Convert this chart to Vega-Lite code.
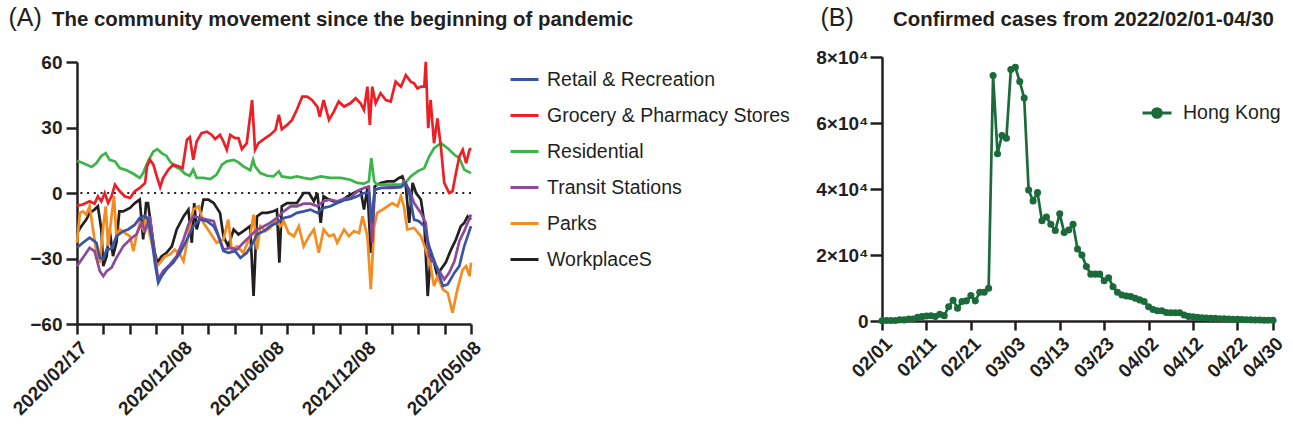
{
"$schema": "https://vega.github.io/schema/vega-lite/v6.json",
"padding": {"left": 8, "top": 5, "right": 5, "bottom": 5},
"bounds": "flush",
"spacing": 411,
"resolve": {"scale": {"color": "independent"}, "legend": {"color": "independent"}},
"config": {
 "view": {"stroke": null},
 "font": "Liberation Sans",
 "axis": {"domainColor": "#231f20", "domainWidth": 2.5, "tickColor": "#231f20", "tickWidth": 2.5, "labelFont": "Liberation Sans", "labelFontWeight": "bold", "labelFontSize": 19, "labelColor": "#231f20", "grid": false, "titleFont": "Liberation Sans", "titleFontWeight": "normal", "titleColor": "#231f20"},
 "legend": {"labelFont": "Liberation Sans", "labelFontSize": 19.5, "labelColor": "#231f20", "labelLimit": 400},
 "title": {"font": "Liberation Sans", "fontSize": 20.4, "fontWeight": "bold", "color": "#231f20", "anchor": "start", "frame": "group", "baseline": "alphabetic", "offset": 0}
},
"datasets": {
 "mob": [
{"s":"WorkplaceS","d":0,"v":-18.3},{"s":"WorkplaceS","d":9,"v":-15.2},{"s":"WorkplaceS","d":19,"v":-12.2},{"s":"WorkplaceS","d":26,"v":-9.1},{"s":"WorkplaceS","d":36,"v":-7.6},{"s":"WorkplaceS","d":43,"v":-6.1},{"s":"WorkplaceS","d":50,"v":-16.7},{"s":"WorkplaceS","d":54,"v":-33.5},{"s":"WorkplaceS","d":61,"v":-28.9},{"s":"WorkplaceS","d":67,"v":-16.7},{"s":"WorkplaceS","d":74,"v":-28.9},{"s":"WorkplaceS","d":81,"v":-22.8},{"s":"WorkplaceS","d":87,"v":-8.4},{"s":"WorkplaceS","d":95,"v":-8.4},{"s":"WorkplaceS","d":109,"v":-6.8},{"s":"WorkplaceS","d":119,"v":-4.6},{"s":"WorkplaceS","d":129,"v":-3.0},{"s":"WorkplaceS","d":136,"v":-21.3},{"s":"WorkplaceS","d":142,"v":-4.6},{"s":"WorkplaceS","d":146,"v":-4.6},{"s":"WorkplaceS","d":153,"v":-16.7},{"s":"WorkplaceS","d":160,"v":-27.4},{"s":"WorkplaceS","d":165,"v":-31.9},{"s":"WorkplaceS","d":174,"v":-28.9},{"s":"WorkplaceS","d":184,"v":-27.4},{"s":"WorkplaceS","d":195,"v":-24.4},{"s":"WorkplaceS","d":205,"v":-16.7},{"s":"WorkplaceS","d":219,"v":-10.7},{"s":"WorkplaceS","d":229,"v":-7.6},{"s":"WorkplaceS","d":236,"v":-22.8},{"s":"WorkplaceS","d":241,"v":-4.6},{"s":"WorkplaceS","d":246,"v":-16.7},{"s":"WorkplaceS","d":253,"v":-10.7},{"s":"WorkplaceS","d":260,"v":-3.0},{"s":"WorkplaceS","d":270,"v":-3.0},{"s":"WorkplaceS","d":281,"v":-4.6},{"s":"WorkplaceS","d":294,"v":-9.1},{"s":"WorkplaceS","d":301,"v":-19.8},{"s":"WorkplaceS","d":311,"v":-24.4},{"s":"WorkplaceS","d":322,"v":-16.7},{"s":"WorkplaceS","d":332,"v":-19.0},{"s":"WorkplaceS","d":342,"v":-17.5},{"s":"WorkplaceS","d":356,"v":-15.2},{"s":"WorkplaceS","d":363,"v":-47.2},{"s":"WorkplaceS","d":370,"v":-10.7},{"s":"WorkplaceS","d":380,"v":-9.1},{"s":"WorkplaceS","d":391,"v":-9.1},{"s":"WorkplaceS","d":404,"v":-8.4},{"s":"WorkplaceS","d":411,"v":-7.6},{"s":"WorkplaceS","d":416,"v":-31.9},{"s":"WorkplaceS","d":421,"v":-6.1},{"s":"WorkplaceS","d":432,"v":-4.6},{"s":"WorkplaceS","d":452,"v":-4.6},{"s":"WorkplaceS","d":466,"v":0},{"s":"WorkplaceS","d":477,"v":0},{"s":"WorkplaceS","d":487,"v":-3.8},{"s":"WorkplaceS","d":494,"v":0},{"s":"WorkplaceS","d":501,"v":-13.7},{"s":"WorkplaceS","d":507,"v":-1.5},{"s":"WorkplaceS","d":518,"v":-3.0},{"s":"WorkplaceS","d":528,"v":-3.8},{"s":"WorkplaceS","d":542,"v":-3.8},{"s":"WorkplaceS","d":556,"v":-1.5},{"s":"WorkplaceS","d":569,"v":0},{"s":"WorkplaceS","d":583,"v":1.5},{"s":"WorkplaceS","d":590,"v":-7.6},{"s":"WorkplaceS","d":597,"v":2.3},{"s":"WorkplaceS","d":604,"v":-27.4},{"s":"WorkplaceS","d":612,"v":3.0},{"s":"WorkplaceS","d":624,"v":4.6},{"s":"WorkplaceS","d":638,"v":5.3},{"s":"WorkplaceS","d":652,"v":5.3},{"s":"WorkplaceS","d":662,"v":6.9},{"s":"WorkplaceS","d":669,"v":7.6},{"s":"WorkplaceS","d":676,"v":3.0},{"s":"WorkplaceS","d":683,"v":-13.7},{"s":"WorkplaceS","d":690,"v":4.6},{"s":"WorkplaceS","d":697,"v":0},{"s":"WorkplaceS","d":707,"v":-3.0},{"s":"WorkplaceS","d":714,"v":-13.7},{"s":"WorkplaceS","d":721,"v":-47.2},{"s":"WorkplaceS","d":727,"v":-28.9},{"s":"WorkplaceS","d":734,"v":-31.9},{"s":"WorkplaceS","d":741,"v":-38.1},{"s":"WorkplaceS","d":748,"v":-35.0},{"s":"WorkplaceS","d":758,"v":-31.9},{"s":"WorkplaceS","d":769,"v":-25.9},{"s":"WorkplaceS","d":779,"v":-21.3},{"s":"WorkplaceS","d":789,"v":-15.2},{"s":"WorkplaceS","d":796,"v":-13.7},{"s":"WorkplaceS","d":803,"v":-10.7},{"s":"WorkplaceS","d":810,"v":-12.2},
{"s":"Parks","d":0,"v":-22.8},{"s":"Parks","d":6,"v":-9.1},{"s":"Parks","d":12,"v":-8.4},{"s":"Parks","d":19,"v":-9.9},{"s":"Parks","d":26,"v":-6.1},{"s":"Parks","d":33,"v":-16.7},{"s":"Parks","d":40,"v":-27.4},{"s":"Parks","d":47,"v":-31.9},{"s":"Parks","d":54,"v":-15.2},{"s":"Parks","d":59,"v":-6.1},{"s":"Parks","d":64,"v":-24.4},{"s":"Parks","d":71,"v":-10.7},{"s":"Parks","d":76,"v":-1.5},{"s":"Parks","d":81,"v":-19.8},{"s":"Parks","d":88,"v":-16.7},{"s":"Parks","d":98,"v":-18.3},{"s":"Parks","d":109,"v":-19.8},{"s":"Parks","d":116,"v":-26.6},{"s":"Parks","d":122,"v":-19.8},{"s":"Parks","d":129,"v":-13.7},{"s":"Parks","d":136,"v":-16.7},{"s":"Parks","d":143,"v":-10.7},{"s":"Parks","d":150,"v":-19.8},{"s":"Parks","d":157,"v":-25.9},{"s":"Parks","d":164,"v":-33.5},{"s":"Parks","d":171,"v":-31.9},{"s":"Parks","d":181,"v":-28.9},{"s":"Parks","d":191,"v":-28.2},{"s":"Parks","d":201,"v":-25.9},{"s":"Parks","d":212,"v":-28.2},{"s":"Parks","d":219,"v":-31.2},{"s":"Parks","d":226,"v":-22.8},{"s":"Parks","d":232,"v":-15.2},{"s":"Parks","d":239,"v":-7.6},{"s":"Parks","d":250,"v":-6.1},{"s":"Parks","d":260,"v":-13.7},{"s":"Parks","d":274,"v":-18.3},{"s":"Parks","d":287,"v":-22.8},{"s":"Parks","d":301,"v":-21.3},{"s":"Parks","d":311,"v":-12.2},{"s":"Parks","d":318,"v":-25.9},{"s":"Parks","d":329,"v":-24.4},{"s":"Parks","d":342,"v":-27.4},{"s":"Parks","d":356,"v":-19.8},{"s":"Parks","d":363,"v":-9.9},{"s":"Parks","d":370,"v":-25.9},{"s":"Parks","d":377,"v":-15.2},{"s":"Parks","d":387,"v":-17.5},{"s":"Parks","d":397,"v":-16.0},{"s":"Parks","d":408,"v":-12.2},{"s":"Parks","d":418,"v":-15.2},{"s":"Parks","d":425,"v":-12.9},{"s":"Parks","d":435,"v":-18.3},{"s":"Parks","d":446,"v":-19.8},{"s":"Parks","d":456,"v":-15.2},{"s":"Parks","d":466,"v":-24.4},{"s":"Parks","d":477,"v":-19.8},{"s":"Parks","d":487,"v":-16.7},{"s":"Parks","d":497,"v":-27.4},{"s":"Parks","d":507,"v":-16.7},{"s":"Parks","d":518,"v":-19.8},{"s":"Parks","d":528,"v":-19.0},{"s":"Parks","d":535,"v":-22.8},{"s":"Parks","d":549,"v":-16.7},{"s":"Parks","d":559,"v":-19.8},{"s":"Parks","d":569,"v":-17.5},{"s":"Parks","d":580,"v":-18.3},{"s":"Parks","d":587,"v":-10.7},{"s":"Parks","d":597,"v":-19.8},{"s":"Parks","d":604,"v":-44.1},{"s":"Parks","d":611,"v":-15.2},{"s":"Parks","d":617,"v":-9.1},{"s":"Parks","d":628,"v":-7.6},{"s":"Parks","d":638,"v":-6.1},{"s":"Parks","d":648,"v":-4.6},{"s":"Parks","d":659,"v":-6.1},{"s":"Parks","d":666,"v":-1.5},{"s":"Parks","d":672,"v":-6.1},{"s":"Parks","d":679,"v":-16.7},{"s":"Parks","d":693,"v":-16.0},{"s":"Parks","d":707,"v":-19.8},{"s":"Parks","d":717,"v":-25.9},{"s":"Parks","d":727,"v":-33.5},{"s":"Parks","d":734,"v":-42.6},{"s":"Parks","d":741,"v":-38.1},{"s":"Parks","d":752,"v":-44.1},{"s":"Parks","d":762,"v":-45.7},{"s":"Parks","d":772,"v":-54.8},{"s":"Parks","d":782,"v":-44.1},{"s":"Parks","d":793,"v":-35.0},{"s":"Parks","d":800,"v":-33.5},{"s":"Parks","d":807,"v":-38.1},{"s":"Parks","d":810,"v":-31.9},
{"s":"Transit Stations","d":0,"v":-33.5},{"s":"Transit Stations","d":12,"v":-29.7},{"s":"Transit Stations","d":26,"v":-25.1},{"s":"Transit Stations","d":36,"v":-26.6},{"s":"Transit Stations","d":47,"v":-35.8},{"s":"Transit Stations","d":54,"v":-38.1},{"s":"Transit Stations","d":61,"v":-35.8},{"s":"Transit Stations","d":71,"v":-34.2},{"s":"Transit Stations","d":81,"v":-29.7},{"s":"Transit Stations","d":95,"v":-24.4},{"s":"Transit Stations","d":109,"v":-21.3},{"s":"Transit Stations","d":122,"v":-19.0},{"s":"Transit Stations","d":133,"v":-13.7},{"s":"Transit Stations","d":140,"v":-17.5},{"s":"Transit Stations","d":150,"v":-10.7},{"s":"Transit Stations","d":160,"v":-28.9},{"s":"Transit Stations","d":167,"v":-39.6},{"s":"Transit Stations","d":177,"v":-35.8},{"s":"Transit Stations","d":191,"v":-32.7},{"s":"Transit Stations","d":205,"v":-28.9},{"s":"Transit Stations","d":219,"v":-21.3},{"s":"Transit Stations","d":229,"v":-14.5},{"s":"Transit Stations","d":239,"v":-10.7},{"s":"Transit Stations","d":253,"v":-11.4},{"s":"Transit Stations","d":267,"v":-12.2},{"s":"Transit Stations","d":281,"v":-12.9},{"s":"Transit Stations","d":291,"v":-19.8},{"s":"Transit Stations","d":301,"v":-25.9},{"s":"Transit Stations","d":315,"v":-25.1},{"s":"Transit Stations","d":329,"v":-25.9},{"s":"Transit Stations","d":342,"v":-22.8},{"s":"Transit Stations","d":356,"v":-19.8},{"s":"Transit Stations","d":370,"v":-16.7},{"s":"Transit Stations","d":384,"v":-15.2},{"s":"Transit Stations","d":397,"v":-13.7},{"s":"Transit Stations","d":411,"v":-11.4},{"s":"Transit Stations","d":425,"v":-8.4},{"s":"Transit Stations","d":439,"v":-6.1},{"s":"Transit Stations","d":452,"v":-6.1},{"s":"Transit Stations","d":466,"v":-4.9},{"s":"Transit Stations","d":480,"v":-4.9},{"s":"Transit Stations","d":494,"v":-6.1},{"s":"Transit Stations","d":507,"v":-3.8},{"s":"Transit Stations","d":521,"v":-3.0},{"s":"Transit Stations","d":535,"v":-3.8},{"s":"Transit Stations","d":549,"v":-2.7},{"s":"Transit Stations","d":562,"v":-2.3},{"s":"Transit Stations","d":576,"v":0.8},{"s":"Transit Stations","d":590,"v":2.3},{"s":"Transit Stations","d":600,"v":3.0},{"s":"Transit Stations","d":607,"v":-22.8},{"s":"Transit Stations","d":612,"v":1.5},{"s":"Transit Stations","d":624,"v":2.3},{"s":"Transit Stations","d":645,"v":2.7},{"s":"Transit Stations","d":666,"v":3.0},{"s":"Transit Stations","d":672,"v":5.3},{"s":"Transit Stations","d":683,"v":1.5},{"s":"Transit Stations","d":693,"v":-4.6},{"s":"Transit Stations","d":707,"v":-9.1},{"s":"Transit Stations","d":717,"v":-13.7},{"s":"Transit Stations","d":724,"v":-28.9},{"s":"Transit Stations","d":734,"v":-31.9},{"s":"Transit Stations","d":745,"v":-35.8},{"s":"Transit Stations","d":755,"v":-39.6},{"s":"Transit Stations","d":765,"v":-36.5},{"s":"Transit Stations","d":776,"v":-31.2},{"s":"Transit Stations","d":786,"v":-22.1},{"s":"Transit Stations","d":796,"v":-17.5},{"s":"Transit Stations","d":810,"v":-9.9},
{"s":"Residential","d":0,"v":14.8},{"s":"Residential","d":12,"v":13.7},{"s":"Residential","d":30,"v":11.9},{"s":"Residential","d":40,"v":13.7},{"s":"Residential","d":50,"v":17.0},{"s":"Residential","d":59,"v":18.3},{"s":"Residential","d":67,"v":15.2},{"s":"Residential","d":78,"v":14.5},{"s":"Residential","d":88,"v":11.4},{"s":"Residential","d":102,"v":10.4},{"s":"Residential","d":116,"v":8.8},{"s":"Residential","d":129,"v":6.9},{"s":"Residential","d":136,"v":9.1},{"s":"Residential","d":146,"v":14.5},{"s":"Residential","d":157,"v":19.0},{"s":"Residential","d":165,"v":20.1},{"s":"Residential","d":174,"v":18.3},{"s":"Residential","d":184,"v":17.0},{"s":"Residential","d":191,"v":14.5},{"s":"Residential","d":201,"v":12.2},{"s":"Residential","d":212,"v":11.0},{"s":"Residential","d":222,"v":8.8},{"s":"Residential","d":232,"v":7.9},{"s":"Residential","d":239,"v":10.7},{"s":"Residential","d":246,"v":6.9},{"s":"Residential","d":260,"v":6.9},{"s":"Residential","d":274,"v":6.4},{"s":"Residential","d":287,"v":8.4},{"s":"Residential","d":298,"v":13.0},{"s":"Residential","d":308,"v":14.5},{"s":"Residential","d":322,"v":15.2},{"s":"Residential","d":332,"v":14.0},{"s":"Residential","d":342,"v":12.2},{"s":"Residential","d":356,"v":10.4},{"s":"Residential","d":362,"v":15.2},{"s":"Residential","d":366,"v":12.2},{"s":"Residential","d":377,"v":9.1},{"s":"Residential","d":391,"v":7.9},{"s":"Residential","d":404,"v":7.6},{"s":"Residential","d":415,"v":9.9},{"s":"Residential","d":421,"v":7.6},{"s":"Residential","d":439,"v":6.9},{"s":"Residential","d":452,"v":7.6},{"s":"Residential","d":466,"v":6.9},{"s":"Residential","d":480,"v":6.4},{"s":"Residential","d":501,"v":7.6},{"s":"Residential","d":521,"v":6.9},{"s":"Residential","d":542,"v":6.9},{"s":"Residential","d":562,"v":6.1},{"s":"Residential","d":576,"v":4.6},{"s":"Residential","d":590,"v":4.3},{"s":"Residential","d":600,"v":5.3},{"s":"Residential","d":605,"v":16.0},{"s":"Residential","d":611,"v":5.3},{"s":"Residential","d":617,"v":3.8},{"s":"Residential","d":645,"v":3.8},{"s":"Residential","d":672,"v":3.8},{"s":"Residential","d":686,"v":7.6},{"s":"Residential","d":700,"v":9.9},{"s":"Residential","d":714,"v":11.4},{"s":"Residential","d":724,"v":16.7},{"s":"Residential","d":734,"v":20.5},{"s":"Residential","d":748,"v":22.8},{"s":"Residential","d":762,"v":20.5},{"s":"Residential","d":776,"v":17.5},{"s":"Residential","d":786,"v":16.0},{"s":"Residential","d":796,"v":10.7},{"s":"Residential","d":810,"v":9.1},
{"s":"Grocery & Pharmacy Stores","d":0,"v":-5.8},{"s":"Grocery & Pharmacy Stores","d":12,"v":-5.3},{"s":"Grocery & Pharmacy Stores","d":26,"v":-3.8},{"s":"Grocery & Pharmacy Stores","d":36,"v":-4.9},{"s":"Grocery & Pharmacy Stores","d":43,"v":-1.5},{"s":"Grocery & Pharmacy Stores","d":50,"v":-3.8},{"s":"Grocery & Pharmacy Stores","d":57,"v":0},{"s":"Grocery & Pharmacy Stores","d":64,"v":-4.6},{"s":"Grocery & Pharmacy Stores","d":71,"v":-1.5},{"s":"Grocery & Pharmacy Stores","d":78,"v":3.8},{"s":"Grocery & Pharmacy Stores","d":88,"v":0.8},{"s":"Grocery & Pharmacy Stores","d":98,"v":-1.5},{"s":"Grocery & Pharmacy Stores","d":109,"v":-2.3},{"s":"Grocery & Pharmacy Stores","d":119,"v":0.8},{"s":"Grocery & Pharmacy Stores","d":129,"v":2.3},{"s":"Grocery & Pharmacy Stores","d":140,"v":4.6},{"s":"Grocery & Pharmacy Stores","d":144,"v":12.2},{"s":"Grocery & Pharmacy Stores","d":150,"v":15.2},{"s":"Grocery & Pharmacy Stores","d":157,"v":13.0},{"s":"Grocery & Pharmacy Stores","d":164,"v":7.6},{"s":"Grocery & Pharmacy Stores","d":171,"v":2.7},{"s":"Grocery & Pharmacy Stores","d":177,"v":6.9},{"s":"Grocery & Pharmacy Stores","d":188,"v":10.7},{"s":"Grocery & Pharmacy Stores","d":198,"v":13.0},{"s":"Grocery & Pharmacy Stores","d":208,"v":12.2},{"s":"Grocery & Pharmacy Stores","d":217,"v":11.4},{"s":"Grocery & Pharmacy Stores","d":226,"v":24.4},{"s":"Grocery & Pharmacy Stores","d":232,"v":25.6},{"s":"Grocery & Pharmacy Stores","d":239,"v":15.2},{"s":"Grocery & Pharmacy Stores","d":246,"v":23.6},{"s":"Grocery & Pharmacy Stores","d":256,"v":27.4},{"s":"Grocery & Pharmacy Stores","d":267,"v":28.1},{"s":"Grocery & Pharmacy Stores","d":277,"v":26.6},{"s":"Grocery & Pharmacy Stores","d":284,"v":24.7},{"s":"Grocery & Pharmacy Stores","d":294,"v":26.6},{"s":"Grocery & Pharmacy Stores","d":301,"v":23.6},{"s":"Grocery & Pharmacy Stores","d":308,"v":19.8},{"s":"Grocery & Pharmacy Stores","d":315,"v":26.6},{"s":"Grocery & Pharmacy Stores","d":325,"v":25.1},{"s":"Grocery & Pharmacy Stores","d":332,"v":25.1},{"s":"Grocery & Pharmacy Stores","d":339,"v":20.1},{"s":"Grocery & Pharmacy Stores","d":349,"v":22.8},{"s":"Grocery & Pharmacy Stores","d":360,"v":42.6},{"s":"Grocery & Pharmacy Stores","d":366,"v":19.8},{"s":"Grocery & Pharmacy Stores","d":373,"v":22.8},{"s":"Grocery & Pharmacy Stores","d":387,"v":25.1},{"s":"Grocery & Pharmacy Stores","d":397,"v":26.6},{"s":"Grocery & Pharmacy Stores","d":408,"v":28.9},{"s":"Grocery & Pharmacy Stores","d":415,"v":35.8},{"s":"Grocery & Pharmacy Stores","d":421,"v":29.2},{"s":"Grocery & Pharmacy Stores","d":432,"v":31.2},{"s":"Grocery & Pharmacy Stores","d":442,"v":33.5},{"s":"Grocery & Pharmacy Stores","d":452,"v":38.1},{"s":"Grocery & Pharmacy Stores","d":463,"v":44.1},{"s":"Grocery & Pharmacy Stores","d":473,"v":44.1},{"s":"Grocery & Pharmacy Stores","d":483,"v":42.6},{"s":"Grocery & Pharmacy Stores","d":494,"v":39.6},{"s":"Grocery & Pharmacy Stores","d":499,"v":35.0},{"s":"Grocery & Pharmacy Stores","d":507,"v":42.6},{"s":"Grocery & Pharmacy Stores","d":518,"v":33.5},{"s":"Grocery & Pharmacy Stores","d":528,"v":37.3},{"s":"Grocery & Pharmacy Stores","d":538,"v":41.9},{"s":"Grocery & Pharmacy Stores","d":549,"v":39.6},{"s":"Grocery & Pharmacy Stores","d":562,"v":41.1},{"s":"Grocery & Pharmacy Stores","d":573,"v":43.4},{"s":"Grocery & Pharmacy Stores","d":583,"v":41.1},{"s":"Grocery & Pharmacy Stores","d":590,"v":38.1},{"s":"Grocery & Pharmacy Stores","d":597,"v":48.7},{"s":"Grocery & Pharmacy Stores","d":602,"v":31.2},{"s":"Grocery & Pharmacy Stores","d":607,"v":48.7},{"s":"Grocery & Pharmacy Stores","d":614,"v":41.1},{"s":"Grocery & Pharmacy Stores","d":624,"v":45.7},{"s":"Grocery & Pharmacy Stores","d":635,"v":42.6},{"s":"Grocery & Pharmacy Stores","d":645,"v":41.9},{"s":"Grocery & Pharmacy Stores","d":655,"v":51.0},{"s":"Grocery & Pharmacy Stores","d":666,"v":48.7},{"s":"Grocery & Pharmacy Stores","d":676,"v":54.0},{"s":"Grocery & Pharmacy Stores","d":686,"v":51.0},{"s":"Grocery & Pharmacy Stores","d":693,"v":50.2},{"s":"Grocery & Pharmacy Stores","d":700,"v":47.9},{"s":"Grocery & Pharmacy Stores","d":707,"v":48.7},{"s":"Grocery & Pharmacy Stores","d":714,"v":48.7},{"s":"Grocery & Pharmacy Stores","d":717,"v":60.1},{"s":"Grocery & Pharmacy Stores","d":722,"v":29.7},{"s":"Grocery & Pharmacy Stores","d":727,"v":42.6},{"s":"Grocery & Pharmacy Stores","d":734,"v":22.8},{"s":"Grocery & Pharmacy Stores","d":741,"v":34.2},{"s":"Grocery & Pharmacy Stores","d":748,"v":21.3},{"s":"Grocery & Pharmacy Stores","d":755,"v":4.6},{"s":"Grocery & Pharmacy Stores","d":765,"v":0},{"s":"Grocery & Pharmacy Stores","d":772,"v":0.8},{"s":"Grocery & Pharmacy Stores","d":779,"v":9.1},{"s":"Grocery & Pharmacy Stores","d":786,"v":16.7},{"s":"Grocery & Pharmacy Stores","d":793,"v":19.8},{"s":"Grocery & Pharmacy Stores","d":800,"v":13.7},{"s":"Grocery & Pharmacy Stores","d":807,"v":19.8},{"s":"Grocery & Pharmacy Stores","d":810,"v":20.5},
{"s":"Retail & Recreation","d":0,"v":-25.1},{"s":"Retail & Recreation","d":12,"v":-22.8},{"s":"Retail & Recreation","d":26,"v":-20.5},{"s":"Retail & Recreation","d":40,"v":-22.8},{"s":"Retail & Recreation","d":47,"v":-29.7},{"s":"Retail & Recreation","d":54,"v":-30.4},{"s":"Retail & Recreation","d":61,"v":-25.9},{"s":"Retail & Recreation","d":71,"v":-25.6},{"s":"Retail & Recreation","d":81,"v":-19.8},{"s":"Retail & Recreation","d":95,"v":-17.5},{"s":"Retail & Recreation","d":105,"v":-16.7},{"s":"Retail & Recreation","d":119,"v":-14.5},{"s":"Retail & Recreation","d":129,"v":-11.4},{"s":"Retail & Recreation","d":140,"v":-10.4},{"s":"Retail & Recreation","d":146,"v":-12.2},{"s":"Retail & Recreation","d":153,"v":-19.8},{"s":"Retail & Recreation","d":160,"v":-31.9},{"s":"Retail & Recreation","d":167,"v":-41.1},{"s":"Retail & Recreation","d":174,"v":-38.1},{"s":"Retail & Recreation","d":184,"v":-35.0},{"s":"Retail & Recreation","d":198,"v":-31.9},{"s":"Retail & Recreation","d":212,"v":-27.4},{"s":"Retail & Recreation","d":226,"v":-21.3},{"s":"Retail & Recreation","d":239,"v":-15.2},{"s":"Retail & Recreation","d":253,"v":-12.2},{"s":"Retail & Recreation","d":267,"v":-12.9},{"s":"Retail & Recreation","d":281,"v":-15.2},{"s":"Retail & Recreation","d":291,"v":-19.8},{"s":"Retail & Recreation","d":301,"v":-26.6},{"s":"Retail & Recreation","d":311,"v":-27.4},{"s":"Retail & Recreation","d":325,"v":-26.6},{"s":"Retail & Recreation","d":336,"v":-29.7},{"s":"Retail & Recreation","d":349,"v":-27.4},{"s":"Retail & Recreation","d":360,"v":-23.6},{"s":"Retail & Recreation","d":370,"v":-19.0},{"s":"Retail & Recreation","d":384,"v":-17.5},{"s":"Retail & Recreation","d":397,"v":-15.2},{"s":"Retail & Recreation","d":411,"v":-13.7},{"s":"Retail & Recreation","d":425,"v":-11.4},{"s":"Retail & Recreation","d":439,"v":-10.7},{"s":"Retail & Recreation","d":452,"v":-9.1},{"s":"Retail & Recreation","d":466,"v":-8.4},{"s":"Retail & Recreation","d":480,"v":-7.6},{"s":"Retail & Recreation","d":494,"v":-9.1},{"s":"Retail & Recreation","d":507,"v":-6.8},{"s":"Retail & Recreation","d":521,"v":-6.1},{"s":"Retail & Recreation","d":535,"v":-4.6},{"s":"Retail & Recreation","d":549,"v":-3.3},{"s":"Retail & Recreation","d":562,"v":-2.7},{"s":"Retail & Recreation","d":576,"v":-1.5},{"s":"Retail & Recreation","d":590,"v":0},{"s":"Retail & Recreation","d":600,"v":0},{"s":"Retail & Recreation","d":607,"v":-13.7},{"s":"Retail & Recreation","d":612,"v":1.5},{"s":"Retail & Recreation","d":624,"v":2.3},{"s":"Retail & Recreation","d":645,"v":2.3},{"s":"Retail & Recreation","d":666,"v":2.7},{"s":"Retail & Recreation","d":676,"v":4.6},{"s":"Retail & Recreation","d":683,"v":0},{"s":"Retail & Recreation","d":693,"v":-12.2},{"s":"Retail & Recreation","d":703,"v":-12.9},{"s":"Retail & Recreation","d":714,"v":-15.2},{"s":"Retail & Recreation","d":724,"v":-24.4},{"s":"Retail & Recreation","d":731,"v":-28.9},{"s":"Retail & Recreation","d":741,"v":-35.0},{"s":"Retail & Recreation","d":752,"v":-42.6},{"s":"Retail & Recreation","d":762,"v":-41.9},{"s":"Retail & Recreation","d":776,"v":-36.5},{"s":"Retail & Recreation","d":786,"v":-33.5},{"s":"Retail & Recreation","d":796,"v":-24.4},{"s":"Retail & Recreation","d":810,"v":-15.2}
 ],
 "cases": [
{"r":"Hong Kong","t":0,"n":100},{"r":"Hong Kong","t":1,"n":130},{"r":"Hong Kong","t":2,"n":140},{"r":"Hong Kong","t":3,"n":130},{"r":"Hong Kong","t":4,"n":350},{"r":"Hong Kong","t":5,"n":340},{"r":"Hong Kong","t":6,"n":610},{"r":"Hong Kong","t":7,"n":620},{"r":"Hong Kong","t":8,"n":1160},{"r":"Hong Kong","t":9,"n":1320},{"r":"Hong Kong","t":10,"n":1510},{"r":"Hong Kong","t":11,"n":1590},{"r":"Hong Kong","t":12,"n":1350},{"r":"Hong Kong","t":13,"n":2070},{"r":"Hong Kong","t":14,"n":1620},{"r":"Hong Kong","t":15,"n":4300},{"r":"Hong Kong","t":16,"n":6300},{"r":"Hong Kong","t":17,"n":3900},{"r":"Hong Kong","t":18,"n":5900},{"r":"Hong Kong","t":19,"n":6100},{"r":"Hong Kong","t":20,"n":7700},{"r":"Hong Kong","t":21,"n":6100},{"r":"Hong Kong","t":22,"n":8700},{"r":"Hong Kong","t":23,"n":8700},{"r":"Hong Kong","t":24,"n":9900},{"r":"Hong Kong","t":25,"n":74400},{"r":"Hong Kong","t":26,"n":50700},{"r":"Hong Kong","t":27,"n":56200},{"r":"Hong Kong","t":28,"n":55400},{"r":"Hong Kong","t":29,"n":76200},{"r":"Hong Kong","t":30,"n":76900},{"r":"Hong Kong","t":31,"n":72600},{"r":"Hong Kong","t":32,"n":67600},{"r":"Hong Kong","t":33,"n":39700},{"r":"Hong Kong","t":34,"n":36400},{"r":"Hong Kong","t":35,"n":38900},{"r":"Hong Kong","t":36,"n":30400},{"r":"Hong Kong","t":37,"n":31500},{"r":"Hong Kong","t":38,"n":29300},{"r":"Hong Kong","t":39,"n":27400},{"r":"Hong Kong","t":40,"n":32500},{"r":"Hong Kong","t":41,"n":26800},{"r":"Hong Kong","t":42,"n":27600},{"r":"Hong Kong","t":43,"n":29300},{"r":"Hong Kong","t":44,"n":21800},{"r":"Hong Kong","t":45,"n":20000},{"r":"Hong Kong","t":46,"n":16500},{"r":"Hong Kong","t":47,"n":14200},{"r":"Hong Kong","t":48,"n":14200},{"r":"Hong Kong","t":49,"n":14200},{"r":"Hong Kong","t":50,"n":12200},{"r":"Hong Kong","t":51,"n":13100},{"r":"Hong Kong","t":52,"n":10400},{"r":"Hong Kong","t":53,"n":8700},{"r":"Hong Kong","t":54,"n":7900},{"r":"Hong Kong","t":55,"n":7600},{"r":"Hong Kong","t":56,"n":7400},{"r":"Hong Kong","t":57,"n":6900},{"r":"Hong Kong","t":58,"n":6400},{"r":"Hong Kong","t":59,"n":5900},{"r":"Hong Kong","t":60,"n":4300},{"r":"Hong Kong","t":61,"n":3500},{"r":"Hong Kong","t":62,"n":3100},{"r":"Hong Kong","t":63,"n":3100},{"r":"Hong Kong","t":64,"n":2600},{"r":"Hong Kong","t":65,"n":2500},{"r":"Hong Kong","t":66,"n":2500},{"r":"Hong Kong","t":67,"n":2500},{"r":"Hong Kong","t":68,"n":1800},{"r":"Hong Kong","t":69,"n":1400},{"r":"Hong Kong","t":70,"n":1300},{"r":"Hong Kong","t":71,"n":1100},{"r":"Hong Kong","t":72,"n":1000},{"r":"Hong Kong","t":73,"n":900},{"r":"Hong Kong","t":74,"n":850},{"r":"Hong Kong","t":75,"n":800},{"r":"Hong Kong","t":76,"n":700},{"r":"Hong Kong","t":77,"n":650},{"r":"Hong Kong","t":78,"n":600},{"r":"Hong Kong","t":79,"n":550},{"r":"Hong Kong","t":80,"n":500},{"r":"Hong Kong","t":81,"n":450},{"r":"Hong Kong","t":82,"n":400},{"r":"Hong Kong","t":83,"n":350},{"r":"Hong Kong","t":84,"n":300},{"r":"Hong Kong","t":85,"n":300},{"r":"Hong Kong","t":86,"n":250},{"r":"Hong Kong","t":87,"n":250},{"r":"Hong Kong","t":88,"n":250}
 ]
},
"hconcat": [
 {
  "width": 394,
  "height": 267,
  "title": {"text": "The community movement since the beginning of pandemic", "dx": -25, "dy": 29},
  "layer": [
   {
    "data": {"values": [{}]},
    "mark": {"type": "rule", "strokeDash": [2, 4.7], "strokeWidth": 2.2, "color": "#231f20"},
    "encoding": {"y": {"datum": 0, "type": "quantitative"}}
   },
   {
    "data": {"name": "mob"},
    "mark": {"type": "line", "strokeWidth": 2.7},
    "encoding": {
     "x": {"field": "d", "type": "quantitative", "scale": {"domain": [0, 810], "nice": false, "zero": false},
      "axis": {"title": null, "values": [0,54,108,162,216,270,324,378,405,432,486,540,594,648,702,756,810],
       "labelExpr": "datum.value == 0 ? '2020/02/17' : datum.value == 216 ? '2020/12/08' : datum.value == 405 ? '2021/06/08' : datum.value == 594 ? '2021/12/08' : datum.value == 810 ? '2022/05/08' : ''",
       "tickOpacity": {"condition": {"test": "datum.value == 405", "value": 0}, "value": 1},
       "tickSize": 10, "labelAngle": -45, "labelAlign": "right", "labelBaseline": "top", "labelPadding": 4, "labelOverlap": false, "labelBound": false, "labelFlush": false}},
     "y": {"field": "v", "type": "quantitative", "scale": {"domain": [-60, 60], "nice": false, "range": [267, 5]},
      "axis": {"values": [-60,-30,0,30,60], "tickSize": 11, "labelPadding": 4, "title": "(A)", "titleAngle": 0, "titleAlign": "left", "titleBaseline": "alphabetic", "titleX": -69, "titleY": -32, "titleFontSize": 25}},
     "color": {"field": "s", "type": "nominal",
      "scale": {"domain": ["Retail & Recreation", "Grocery & Pharmacy Stores", "Residential", "Transit Stations", "Parks", "WorkplaceS"],
       "range": ["#3a53a4", "#ed1f24", "#3bb44a", "#8b4a9c", "#f68b1f", "#231f20"]},
      "legend": {"orient": "none", "legendX": 432, "legendY": 7, "title": null, "symbolType": "stroke", "symbolSize": 784, "symbolStrokeWidth": 3, "labelOffset": 7, "rowPadding": 11, "labelFontSize": 19.5}}
    }
   }
  ]
 },
 {
  "width": 391,
  "height": 264,
  "title": {"text": "Confirmed cases from 2022/02/01-04/30", "dx": 11, "dy": 29},
  "data": {"name": "cases"},
  "layer": [
   {
    "mark": {"type": "line", "strokeWidth": 2.7},
    "encoding": {
     "x": {"field": "t", "type": "quantitative", "scale": {"domain": [0, 88], "nice": false, "zero": false},
      "axis": {"title": null, "values": [0,10,20,30,40,50,60,70,80,88],
       "labelExpr": "['02/01','02/11','02/21','03/03','03/13','03/23','04/02','04/12','04/22','04/30'][indexof([0,10,20,30,40,50,60,70,80,88], datum.value)]",
       "tickSize": 9, "labelAngle": -45, "labelAlign": "right", "labelBaseline": "top", "labelPadding": 4, "labelOverlap": false, "labelBound": false, "labelFlush": false}},
     "y": {"field": "n", "type": "quantitative", "scale": {"domain": [0, 80000], "nice": false},
      "axis": {"values": [0, 20000, 40000, 60000, 80000], "labelExpr": "datum.value == 0 ? '0' : (datum.value / 10000) + '×10⁴'", "tickSize": 12, "labelPadding": 2, "title": "(B)", "titleAngle": 0, "titleAlign": "left", "titleBaseline": "alphabetic", "titleX": -62, "titleY": -32, "titleFontSize": 25}},
     "color": {"field": "r", "type": "nominal", "scale": {"domain": ["Hong Kong"], "range": ["#1b6b3a"]},
      "legend": {"orient": "none", "legendX": 259, "legendY": 40, "title": null, "symbolType": "M-1,0L1,0M-0.3,0A0.3,0.3,0,1,1,0.3,0A0.3,0.3,0,1,1,-0.3,0Z", "symbolSize": 841, "symbolStrokeWidth": 3, "symbolFillColor": "#1b6b3a", "symbolStrokeColor": "#1b6b3a", "labelOffset": 10, "labelFontSize": 19.5}}
    }
   },
   {
    "mark": {"type": "point", "filled": true, "size": 50, "opacity": 1},
    "encoding": {
     "x": {"field": "t", "type": "quantitative"},
     "y": {"field": "n", "type": "quantitative"},
     "color": {"field": "r", "type": "nominal"}
    }
   }
  ]
 }
]
}
